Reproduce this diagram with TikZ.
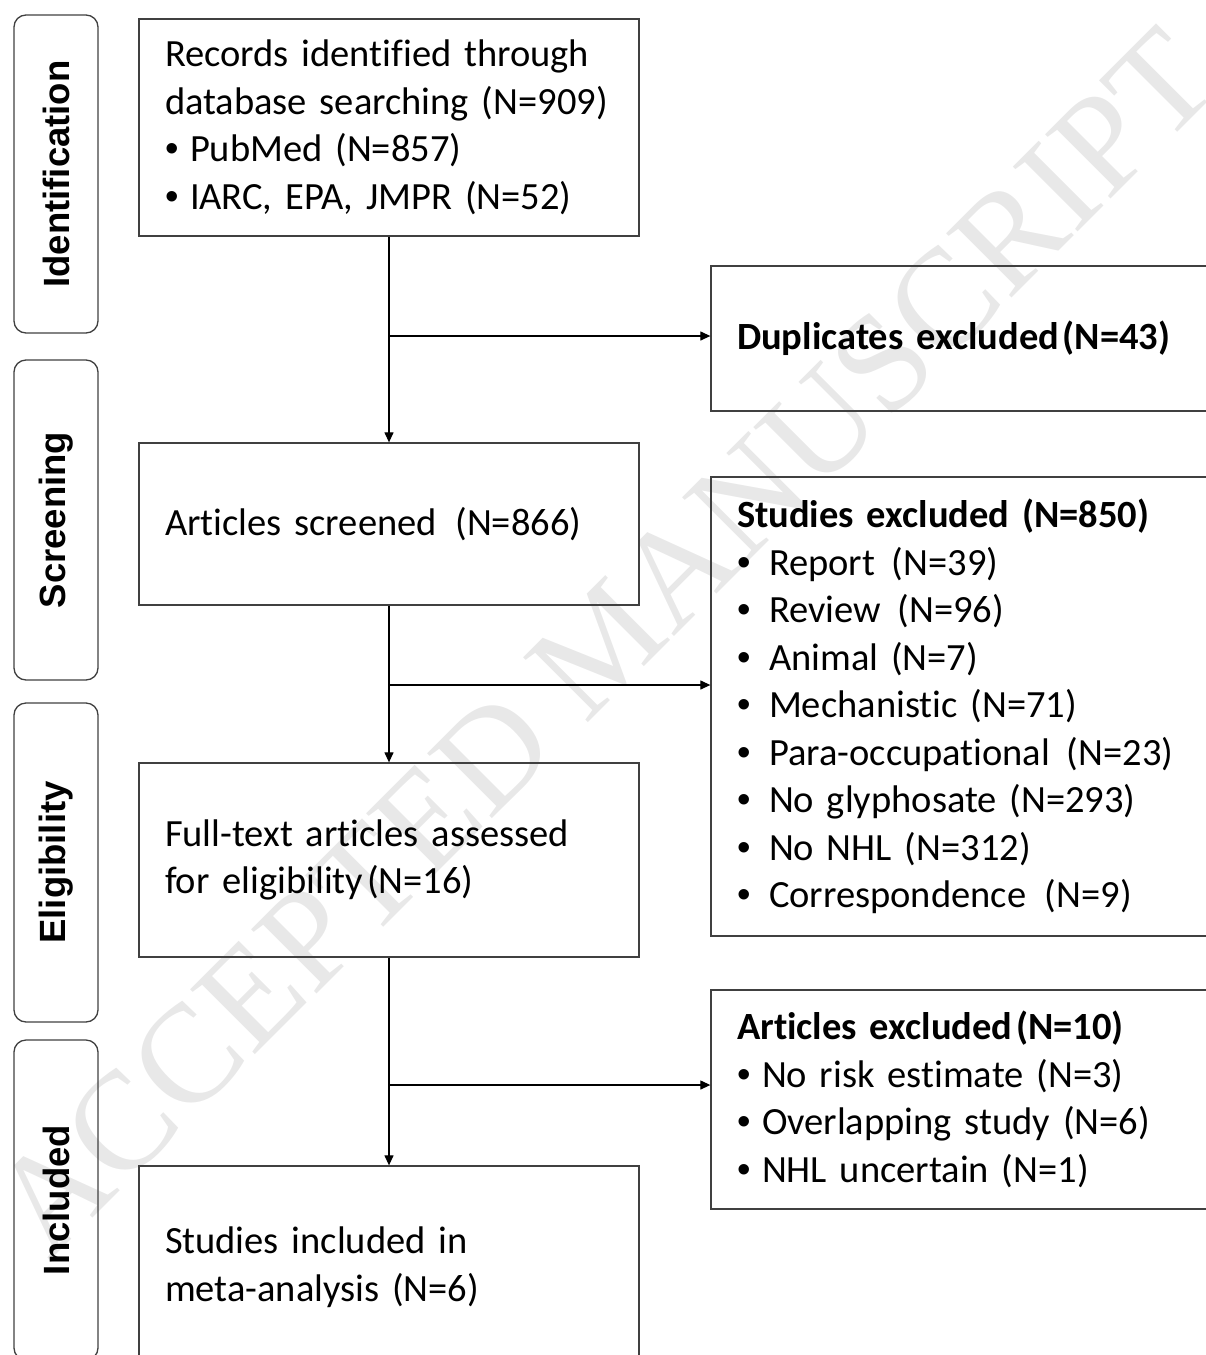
\documentclass[tikz,border=0pt]{standalone}
\usepackage{fontspec}
\setmainfont{Carlito}[Ligatures=NoCommon]
\newfontfamily\sidefont{Liberation Sans}
\newfontfamily\markfont{Liberation Serif}
\usetikzlibrary{arrows.meta}

\definecolor{boxgray}{RGB}{64,64,64}
\definecolor{markgray}{RGB}{232,232,232}

% bullet with its own gap
\newcommand{\bul}[2][25pt]{\makebox[#1][l]{\sidefont\textbullet}#2}

\begin{document}
\begin{tikzpicture}[x=1pt,y=-1pt,line width=1.3pt,
  every node/.style={font=\fontsize{38.5}{47.5}\selectfont},
  stage/.style={draw=boxgray, rounded corners=12pt, rotate=90, minimum height=84pt, inner sep=0pt, font=\sidefont\bfseries\fontsize{36.5}{44}\selectfont},
  mainbox/.style={draw=boxgray, minimum width=500pt, text width=448pt, inner xsep=26pt, align=left},
  sidebox/.style={draw=boxgray, minimum width=519pt, text width=467pt, inner xsep=26pt, align=left},
  flow/.style={-{Triangle[length=10pt,width=9pt]}, black, line width=1.2pt}]
\useasboundingbox (0,0) rectangle (1206,1355);

% watermark
\node[markgray, rotate=45, font=\markfont\fontsize{140}{140}\selectfont] (mark) at (604,642) {ACCEPTED MANUSCRIPT};

% stages
\node[stage, minimum width=318pt] (ident) at (56,174) {Identification};
\node[stage, minimum width=320pt] (scrn) at (56,520) {Screening};
\node[stage, minimum width=319pt] (elig) at (56,862.5) {Eligibility};
\node[stage, minimum width=320pt] (incl) at (56,1200) {Included};

% main column
\node[mainbox, minimum height=217pt] (rec) at (389,127.5) {Records identified through\\database searching (N=909)\\\bul{PubMed (N=857)}\\\bul{IARC, EPA, JMPR (N=52)}};
\node[mainbox, minimum height=162pt] (scr) at (389,524) {Articles screened\hspace{0.15em} (N=866)};
\node[mainbox, minimum height=194pt] (full) at (389,860) {Full-text articles assessed\\for eligibility\hspace{0.1em}(N=16)};
\node[mainbox, minimum height=202pt] (inc) at (389,1267) {Studies included in\\meta-analysis (N=6)};

% exclusions
\node[sidebox, minimum height=145pt, font=\bfseries\fontsize{38.5}{47.5}\selectfont] (dup) at (970.5,338.5) {Duplicates excluded\hspace{0.1em}(N=43)};
\node[sidebox, minimum height=459pt] (sexc) at (970.5,706.5) {\textbf{Studies excluded (N=850)}\\
  \bul[32pt]{Report\hspace{0.1em} (N=39)}\\
  \bul[32pt]{Review\hspace{0.1em} (N=96)}\\
  \bul[32pt]{Animal (N=7)}\\
  \bul[32pt]{Mechanistic (N=71)}\\
  \bul[32pt]{Para-occupational\hspace{0.1em} (N=23)}\\
  \bul[32pt]{No glyphosate (N=293)}\\
  \bul[32pt]{No NHL (N=312)}\\
  \bul[32pt]{Correspondence\hspace{0.15em} (N=9)}};
\node[sidebox, minimum height=219pt] (aexc) at (970.5,1099.5) {\textbf{Articles excluded\hspace{0.1em}(N=10)}\\
  \bul{No risk estimate (N=3)}\\
  \bul{Overlapping study (N=6)}\\
  \bul{NHL uncertain (N=1)}};

% connectors
\coordinate (b1) at (389,336);
\coordinate (b2) at (389,685);
\coordinate (b3) at (389,1085);
\draw[flow] (rec.south) -- (scr.north);
\draw[flow] (b1) -- (b1 -| dup.west);
\draw[flow] (scr.south) -- (full.north);
\draw[flow] (b2) -- (b2 -| sexc.west);
\draw[flow] (full.south) -- (inc.north);
\draw[flow] (b3) -- (b3 -| aexc.west);
\end{tikzpicture}
\end{document}
